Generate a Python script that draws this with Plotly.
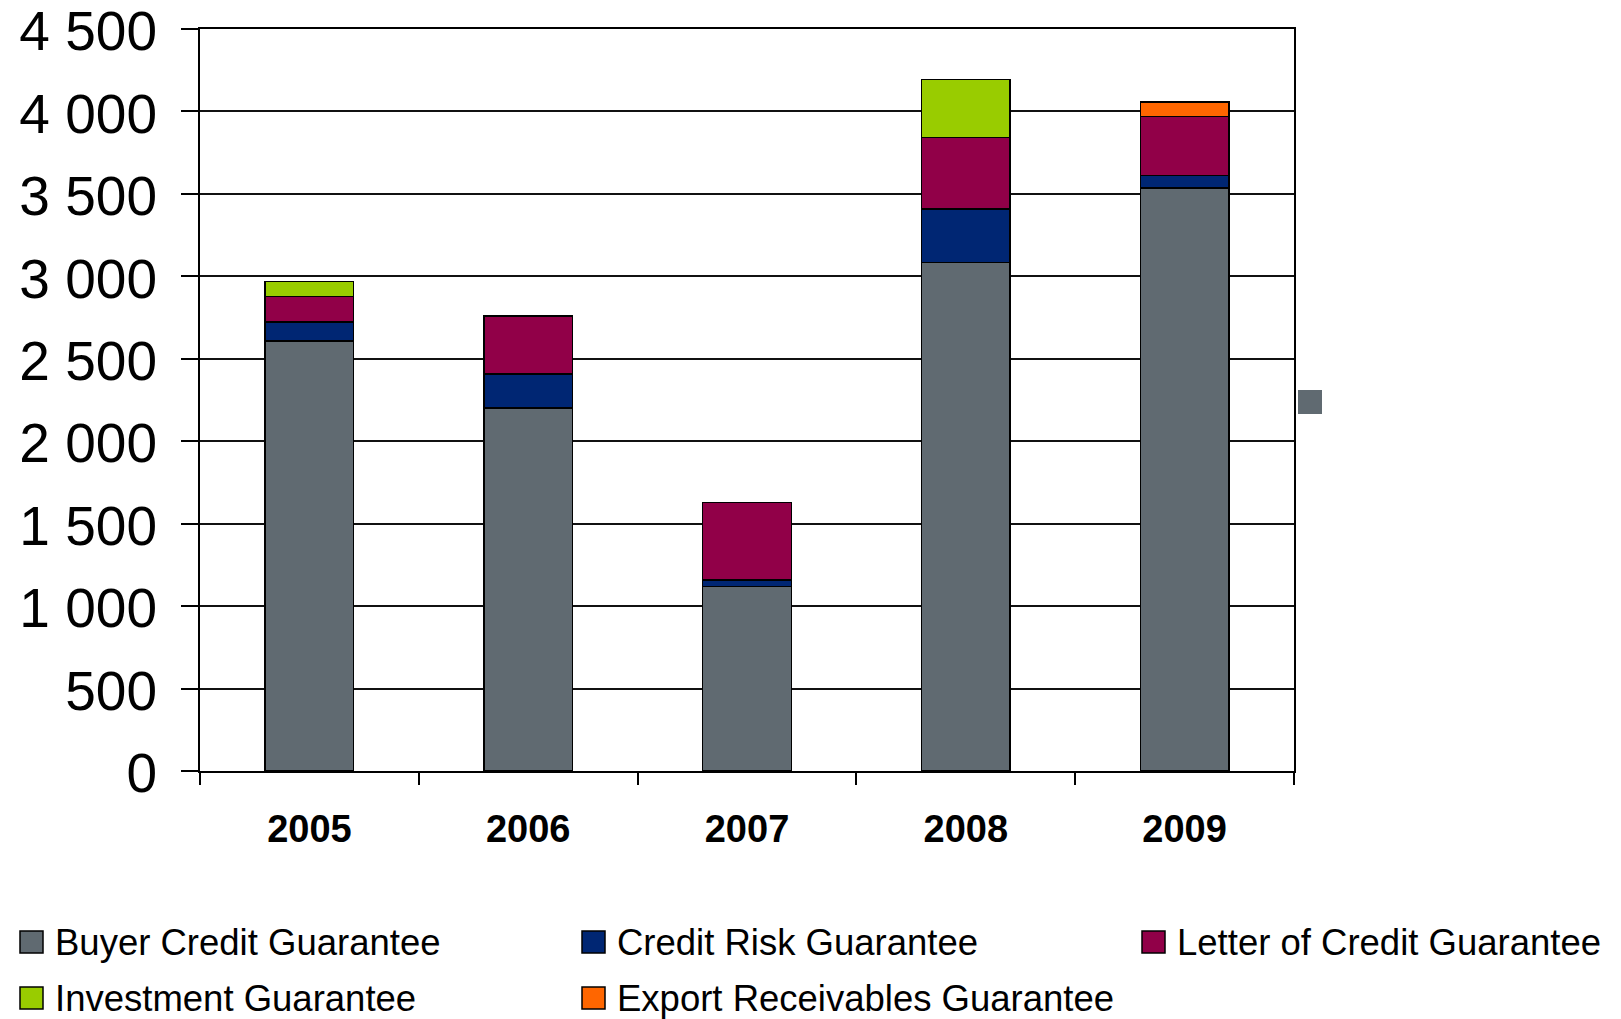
import plotly.graph_objects as go

# Guarantees issued per year, by product
years = ["2005", "2006", "2007", "2008", "2009"]
buyer_credit = [2607, 2202, 1119, 3085, 3537]
credit_risk = [117, 205, 40, 324, 75]
letter_of_credit = [153, 351, 470, 432, 356]
investment = [92, None, None, 352, None]
export_receivables = [None, None, None, None, 90]

series_names = [
    "Buyer Credit Guarantee",
    "Credit Risk Guarantee",
    "Letter of Credit Guarantee",
    "Investment Guarantee",
    "Export Receivables Guarantee",
]
series_values = [buyer_credit, credit_risk, letter_of_credit, investment, export_receivables]
series_colors = ["#606A71", "#002673", "#910048", "#99CC00", "#FF6600"]

y_ticks = [0, 500, 1000, 1500, 2000, 2500, 3000, 3500, 4000, 4500]

W, H = 1621, 1019
ML, MR, MT, MB = 200, 327, 29, 248
PW, PH = W - ML - MR, H - MT - MB

FONT = "Liberation Sans, Arial, sans-serif"

fig = go.Figure()
for name, vals, col in zip(series_names, series_values, series_colors):
    fig.add_trace(go.Bar(
        x=years, y=vals, name=name, width=0.405,
        marker=dict(color=col, line=dict(color="#000000", width=1.5)),
        showlegend=False,
    ))


def px_x(px):
    return (px - ML) / PW


def px_y(py):
    return 1 - (py - MT) / PH


shapes = []
annotations = []

# Legend laid out in three columns below the plot
legend_cols = [20, 582, 1142]
legend_rows = [942, 998]
for i, (name, col) in enumerate(zip(series_names, series_colors)):
    cx = legend_cols[i % 3]
    cy = legend_rows[i // 3]
    shapes.append(dict(
        type="rect", xref="paper", yref="paper",
        x0=px_x(cx), x1=px_x(cx + 23), y0=px_y(cy + 11), y1=px_y(cy - 11),
        fillcolor=col, line=dict(color="#000000", width=1.5),
    ))
    annotations.append(dict(
        xref="paper", yref="paper", x=px_x(cx + 33), y=px_y(cy),
        xanchor="left", yanchor="middle", showarrow=False, text=name,
        font=dict(family=FONT, size=36.5, color="#000000"),
    ))

# Small stray key beside the plot area
shapes.append(dict(
    type="rect", xref="paper", yref="paper",
    x0=px_x(1298), x1=px_x(1322), y0=px_y(414), y1=px_y(390),
    fillcolor="#606A71", line=dict(width=0),
))

fig.update_layout(
    width=W, height=H,
    margin=dict(l=ML, r=MR, t=MT, b=MB, pad=0, autoexpand=False),
    barmode="stack",
    plot_bgcolor="#FFFFFF", paper_bgcolor="#FFFFFF",
    separators=". ",
    font=dict(family=FONT, color="#000000"),
    shapes=shapes,
    annotations=annotations,
    xaxis=dict(
        type="category", categoryorder="array", categoryarray=years,
        tickson="boundaries", ticks="outside", ticklen=12, tickwidth=2, tickcolor="#000000",
        showline=True, linewidth=2, linecolor="#000000", mirror=True,
        showgrid=False, automargin=False,
        tickfont=dict(family=FONT, size=38, color="#000000", weight="bold"),
        ticklabelstandoff=23,
    ),
    yaxis=dict(
        range=[0, 4500], tickvals=y_ticks, tickformat=",d",
        ticks="outside", ticklen=17, tickwidth=2, tickcolor="#000000",
        showline=True, linewidth=2, linecolor="#000000", mirror=True,
        showgrid=True, gridcolor="#111111", gridwidth=2,
        zeroline=False, automargin=False,
        tickfont=dict(family=FONT, size=55, color="#000000"),
        ticklabelstandoff=13, ticklabelshift=2, ticklabeloverflow="allow",
    ),
)

fig.write_html("out.html")
